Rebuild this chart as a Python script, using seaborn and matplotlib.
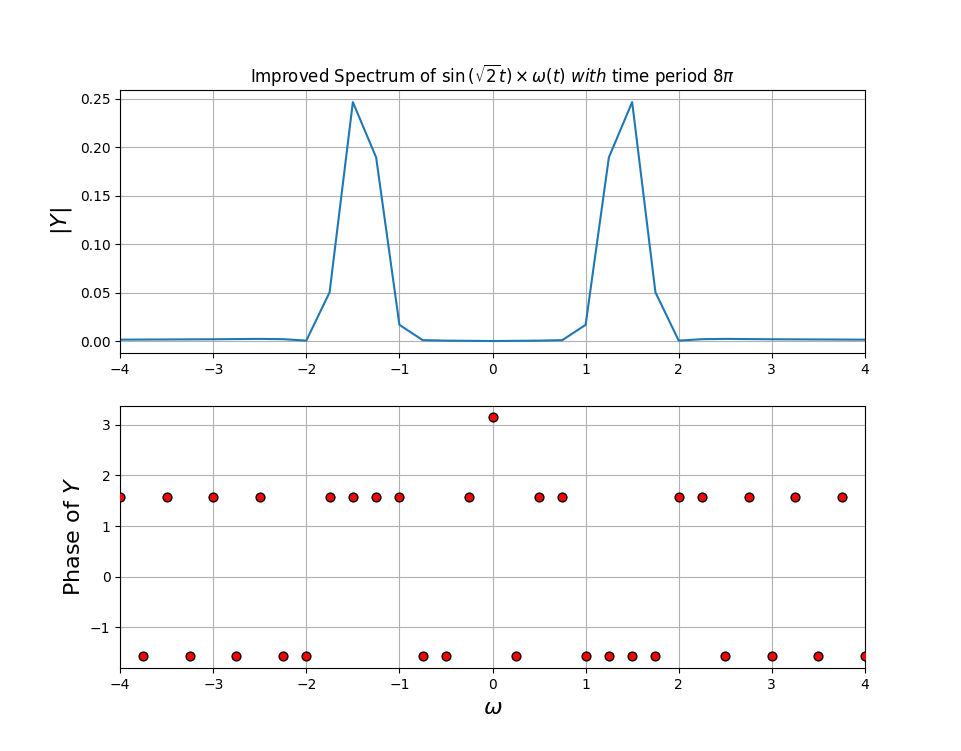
import numpy as np
import matplotlib
matplotlib.use('Agg')
import matplotlib.pyplot as plt
import seaborn as sns

# --- data ---
# frequency axis (step 0.25, -4..4)
omega = [-4.0, -3.75, -3.5, -3.25, -3.0, -2.75, -2.5, -2.25, -2.0, -1.75, -1.5,
         -1.25, -1.0, -0.75, -0.5, -0.25, 0.0, 0.25, 0.5, 0.75, 1.0, 1.25, 1.5,
         1.75, 2.0, 2.25, 2.5, 2.75, 3.0, 3.25, 3.5, 3.75, 4.0]

# magnitude |Y|
magnitude = [0.0017, 0.0018, 0.0019, 0.0020, 0.0021, 0.0023, 0.0025, 0.0022,
             0.0007, 0.0505, 0.2465, 0.1895, 0.0170, 0.0012, 0.0007, 0.0005,
             0.0003,
             0.0005, 0.0007, 0.0012, 0.0170, 0.1895, 0.2465, 0.0505, 0.0007,
             0.0022, 0.0025, 0.0023, 0.0021, 0.0020, 0.0019, 0.0018, 0.0017]

# phase of Y (radians)
phase = [1.5708, -1.5708, 1.5708, -1.5708, 1.5708, -1.5708, 1.5708, -1.5708,
         -1.5708, 1.5708, 1.5708, 1.5708, 1.5708, -1.5708, -1.5708, 1.5708,
         3.1416,
         -1.5708, 1.5708, 1.5708, -1.5708, -1.5708, -1.5708, -1.5708, 1.5708,
         1.5708, -1.5708, 1.5708, -1.5708, 1.5708, -1.5708, 1.5708, -1.5708]

fig, (ax1, ax2) = plt.subplots(2, 1, figsize=(9.61, 7.51), dpi=100)

# --- magnitude plot ---
sns.lineplot(x=omega, y=magnitude, ax=ax1, color='C0', linewidth=1.5)
ax1.set_xlim(-4, 4)
ax1.set_ylabel(r'$|Y|$', fontsize=16)
ax1.set_title(r'Improved Spectrum of $\sin\left(\sqrt{2}t\right)\times\omega(t)\ with$ time period $8\pi$')
ax1.grid(True)

# --- phase plot ---
sns.scatterplot(x=omega, y=phase, ax=ax2, color='red', edgecolor='black',
                linewidth=1, s=40, zorder=3)
ax2.set_xlim(-4, 4)
ax2.set_ylabel(r'Phase of $Y$', fontsize=16)
ax2.set_xlabel(r'$\omega$', fontsize=16)
ax2.grid(True)

plt.savefig('out.png', dpi=100)
